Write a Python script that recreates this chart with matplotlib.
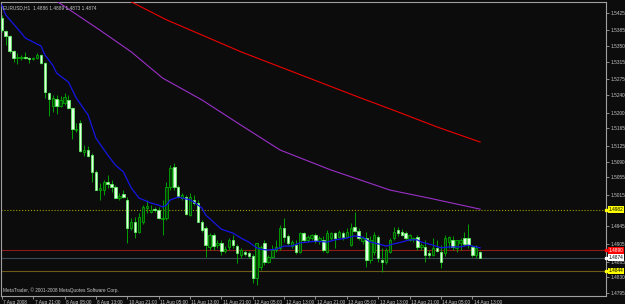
import numpy as np
import matplotlib
matplotlib.use("Agg")
import matplotlib.pyplot as plt
import matplotlib.transforms as mtransforms

# EURUSD H1 bars (7 Aug 2008 13:00 .. 14 Aug 2008 15:00)
opens = [1.5413, 1.5384, 1.5373, 1.5339, 1.5323, 1.5323, 1.5325, 1.5323, 1.5321, 1.5323,
         1.5330, 1.5312, 1.5244, 1.5215, 1.5231, 1.5215, 1.5222, 1.5229, 1.5211, 1.5161,
         1.5177, 1.5112, 1.5116, 1.5105, 1.5067, 1.5026, 1.5026, 1.5044, 1.5040, 1.5033,
         1.5008, 1.5017, 1.5004, 1.4941, 1.4954, 1.4932, 1.4954, 1.4986, 1.4977, 1.4983,
         1.4981, 1.4961, 1.4963, 1.5033, 1.5078, 1.5033, 1.5008, 1.5010, 1.4970, 1.5004,
         1.4997, 1.4954, 1.4941, 1.4898, 1.4925, 1.4902, 1.4907, 1.4889, 1.4898, 1.4914,
         1.4900, 1.4880, 1.4887, 1.4884, 1.4878, 1.4828, 1.4853, 1.4907, 1.4864, 1.4875,
         1.4891, 1.4896, 1.4941, 1.4923, 1.4900, 1.4902, 1.4887, 1.4929, 1.4914, 1.4918,
         1.4925, 1.4911, 1.4914, 1.4887, 1.4918, 1.4929, 1.4920, 1.4929, 1.4920, 1.4902,
         1.4943, 1.4934, 1.4911, 1.4918, 1.4869, 1.4887, 1.4920, 1.4869, 1.4864, 1.4887,
         1.4918, 1.4936, 1.4932, 1.4929, 1.4914, 1.4916, 1.4920, 1.4898, 1.4898, 1.4884,
         1.4880, 1.4896, 1.4887, 1.4884, 1.4909, 1.4914, 1.4896, 1.4907, 1.4918, 1.4918,
         1.4898, 1.4880, 1.4886]
highs = [1.5420, 1.5386, 1.5375, 1.5341, 1.5334, 1.5330, 1.5337, 1.5325, 1.5325, 1.5334,
         1.5332, 1.5314, 1.5247, 1.5240, 1.5240, 1.5238, 1.5244, 1.5240, 1.5213, 1.5177,
         1.5184, 1.5127, 1.5125, 1.5109, 1.5071, 1.5042, 1.5049, 1.5060, 1.5049, 1.5037,
         1.5019, 1.5026, 1.5010, 1.4963, 1.4965, 1.4974, 1.4992, 1.5004, 1.4992, 1.4988,
         1.4988, 1.5004, 1.5044, 1.5082, 1.5087, 1.5037, 1.5019, 1.5015, 1.5019, 1.5015,
         1.5004, 1.4959, 1.4945, 1.4929, 1.4929, 1.4914, 1.4914, 1.4900, 1.4918, 1.4925,
         1.4905, 1.4896, 1.4891, 1.4889, 1.4882, 1.4907, 1.4902, 1.4914, 1.4880, 1.4902,
         1.4914, 1.4947, 1.4963, 1.4927, 1.4914, 1.4914, 1.4932, 1.4932, 1.4925, 1.4927,
         1.4929, 1.4923, 1.4923, 1.4936, 1.4932, 1.4932, 1.4936, 1.4934, 1.4941, 1.4952,
         1.4977, 1.4941, 1.4923, 1.4932, 1.4923, 1.4932, 1.4925, 1.4896, 1.4896, 1.4918,
         1.4943, 1.4943, 1.4938, 1.4934, 1.4927, 1.4920, 1.4925, 1.4907, 1.4914, 1.4891,
         1.4918, 1.4914, 1.4902, 1.4925, 1.4923, 1.4923, 1.4914, 1.4918, 1.4932, 1.4950,
         1.4902, 1.4902, 1.4889]
lows = [1.5382, 1.5352, 1.5334, 1.5314, 1.5310, 1.5319, 1.5321, 1.5312, 1.5319, 1.5321,
        1.5310, 1.5233, 1.5193, 1.5202, 1.5197, 1.5213, 1.5217, 1.5208, 1.5141, 1.5157,
        1.5112, 1.5103, 1.5100, 1.5044, 1.5026, 1.5004, 1.5015, 1.5031, 1.5022, 1.5008,
        1.5004, 1.5008, 1.4907, 1.4936, 1.4918, 1.4929, 1.4950, 1.4974, 1.4974, 1.4977,
        1.4961, 1.4925, 1.4959, 1.5026, 1.5026, 1.5008, 1.5004, 1.4970, 1.4968, 1.4992,
        1.4954, 1.4932, 1.4875, 1.4891, 1.4891, 1.4896, 1.4880, 1.4884, 1.4891, 1.4896,
        1.4862, 1.4873, 1.4878, 1.4873, 1.4817, 1.4812, 1.4846, 1.4857, 1.4862, 1.4873,
        1.4887, 1.4891, 1.4909, 1.4902, 1.4896, 1.4882, 1.4884, 1.4909, 1.4909, 1.4914,
        1.4907, 1.4905, 1.4887, 1.4884, 1.4914, 1.4896, 1.4918, 1.4914, 1.4918, 1.4900,
        1.4932, 1.4914, 1.4905, 1.4853, 1.4862, 1.4880, 1.4864, 1.4842, 1.4860, 1.4884,
        1.4914, 1.4923, 1.4923, 1.4914, 1.4911, 1.4909, 1.4891, 1.4891, 1.4864, 1.4873,
        1.4878, 1.4887, 1.4851, 1.4878, 1.4896, 1.4891, 1.4887, 1.4891, 1.4900, 1.4896,
        1.4875, 1.4873, 1.4873]
closes = [1.5386, 1.5373, 1.5339, 1.5323, 1.5325, 1.5325, 1.5323, 1.5321, 1.5323, 1.5330,
          1.5312, 1.5247, 1.5231, 1.5233, 1.5215, 1.5229, 1.5235, 1.5211, 1.5163, 1.5163,
          1.5114, 1.5116, 1.5103, 1.5067, 1.5026, 1.5031, 1.5044, 1.5040, 1.5033, 1.5008,
          1.5013, 1.5010, 1.4941, 1.4954, 1.4932, 1.4965, 1.4988, 1.4990, 1.4981, 1.4981,
          1.4963, 1.4963, 1.5033, 1.5076, 1.5033, 1.5013, 1.5015, 1.4972, 1.5010, 1.4997,
          1.4954, 1.4936, 1.4902, 1.4925, 1.4900, 1.4907, 1.4889, 1.4893, 1.4914, 1.4902,
          1.4884, 1.4891, 1.4882, 1.4878, 1.4828, 1.4907, 1.4898, 1.4864, 1.4875, 1.4891,
          1.4898, 1.4941, 1.4920, 1.4907, 1.4909, 1.4887, 1.4929, 1.4914, 1.4920, 1.4925,
          1.4911, 1.4918, 1.4891, 1.4929, 1.4929, 1.4918, 1.4932, 1.4920, 1.4932, 1.4941,
          1.4934, 1.4918, 1.4918, 1.4869, 1.4914, 1.4925, 1.4873, 1.4864, 1.4891, 1.4914,
          1.4932, 1.4929, 1.4925, 1.4918, 1.4925, 1.4918, 1.4898, 1.4902, 1.4880, 1.4880,
          1.4896, 1.4889, 1.4864, 1.4918, 1.4920, 1.4898, 1.4914, 1.4914, 1.4905, 1.4902,
          1.4880, 1.4896, 1.4874]

# moving averages (bar index, value)
ma_fast_bars = [0, 1, 5, 6, 8, 10, 11, 13, 14, 17, 19, 22, 24, 27, 29, 31, 33, 35, 38, 40,
                41, 42, 43, 45, 46, 48, 49, 51, 52, 54, 56, 59, 61, 63, 65, 66, 68, 70, 72, 74,
                76, 80, 83, 85, 88, 90, 92, 94, 96, 98, 100, 102, 104, 106, 107, 110, 112, 114,
                117, 119, 121, 122]
ma_fast = [1.5442, 1.5420, 1.5379, 1.5368, 1.5359, 1.5350, 1.5330, 1.5307, 1.5289, 1.5269,
           1.5233, 1.5195, 1.5143, 1.5105, 1.5082, 1.5067, 1.5031, 1.5008, 1.4997, 1.4992,
           1.4988, 1.4992, 1.5004, 1.5010, 1.5008, 1.5004, 1.4999, 1.4986, 1.4970, 1.4954,
           1.4938, 1.4929, 1.4918, 1.4909, 1.4896, 1.4893, 1.4891, 1.4893, 1.4900, 1.4900,
           1.4907, 1.4911, 1.4909, 1.4914, 1.4918, 1.4923, 1.4920, 1.4909, 1.4905, 1.4900,
           1.4905, 1.4909, 1.4914, 1.4914, 1.4909, 1.4902, 1.4896, 1.4898, 1.4898, 1.4902,
           1.4898, 1.4896]
ma_mid_bars = [10, 14, 25, 33, 41, 51, 61, 71, 84, 99, 110, 122]
ma_mid = [1.5478, 1.5451, 1.5386, 1.5337, 1.5278, 1.5229, 1.5172, 1.5116, 1.5071, 1.5026,
          1.5006, 1.4983]
ma_slow_bars = [28, 32, 42, 51, 61, 71, 81, 91, 101, 111, 122]
ma_slow = [1.5469, 1.5454, 1.5409, 1.5375, 1.5337, 1.5303, 1.5269, 1.5235, 1.5202, 1.5168,
           1.5134]

price_ticks = [1.5425, 1.5385, 1.5350, 1.5315, 1.5275, 1.5240, 1.5200, 1.5165, 1.5125,
               1.5090, 1.5055, 1.5015, 1.4945, 1.4905, 1.4865, 1.4830, 1.4795]
time_ticks = [0, 8, 16, 24, 32, 40, 48, 56, 64, 72, 80, 88, 96, 104, 112, 120]
time_labels = ['7 Aug 2008', '7 Aug 21:00', '8 Aug 05:00', '8 Aug 13:00', '10 Aug 21:00',
               '11 Aug 05:00', '11 Aug 13:00', '11 Aug 21:00', '12 Aug 05:00', '12 Aug 13:00',
               '12 Aug 21:00', '13 Aug 05:00', '13 Aug 13:00', '13 Aug 21:00', '14 Aug 05:00',
               '14 Aug 13:00']

# horizontal lines: (price, line colour, style, label bg, label fg)
levels = [(1.4982, '#a0a000', ':', '#ffff00', 'black'),
          (1.4890, '#8c1a1a', '-', '#ff0000', 'white'),
          (1.4874, '#3c4854', '-', '#ffffff', 'black'),
          (1.4844, '#6e5a18', '-', '#ffff00', 'black')]

bg = '#0c0c0c'
fg = '#c8c8c8'
plt.rcParams['font.family'] = ['Liberation Sans', 'DejaVu Sans']
fs = 3.4

fig = plt.figure(figsize=(6.25, 3.04), dpi=100, facecolor=bg)
ax = fig.add_axes([1 / 625, 8.3 / 304, 605 / 625, 293.7 / 304], facecolor=bg)

ax.set_xlim(-0.2, 154.1)
ax.set_ylim(1.47883, 1.54491)

for price, lc, ls, bgc, tc in levels:
    ax.axhline(price, color=lc, linestyle=ls, linewidth=0.8, zorder=1)

idx = np.arange(len(opens))
o = np.array(opens)
c = np.array(closes)
bear = c < o
ax.vlines(idx, lows, highs, colors='#00a000', linewidth=0.7, zorder=2)
face = np.where(bear, '#e4ffe4', '#073a07')
edge = np.where(bear, '#66ee66', '#00a800')
ax.bar(idx, c - o, bottom=o, width=0.62, color=face, edgecolor=edge,
       linewidth=0.6, zorder=3)

ax.plot(ma_slow_bars, ma_slow, color='#ee0000', linewidth=0.8, zorder=4)
ax.plot(ma_mid_bars, ma_mid, color='#9b30c8', linewidth=0.8, zorder=4)
ax.plot(ma_fast_bars, ma_fast, color='#1515e6', linewidth=0.9, zorder=4)

for sp in ax.spines.values():
    sp.set_color('#a0a0a0')
    sp.set_linewidth(0.8)

ax.yaxis.tick_right()
ax.set_yticks(price_ticks)
ax.set_yticklabels([f'{p:.4f}' for p in price_ticks])
ax.tick_params(axis='y', colors='#a0a0a0', labelcolor=fg, labelsize=fs,
               length=2, width=0.6, pad=1)
ax.set_xticks(time_ticks)
ax.set_xticklabels(time_labels, ha='left')
ax.tick_params(axis='x', colors='#a0a0a0', labelcolor=fg, labelsize=fs,
               length=2, width=0.6, pad=1)
off = mtransforms.ScaledTranslation(1.5 / 100, 0, fig.dpi_scale_trans)
for lab in ax.get_xticklabels():
    lab.set_transform(lab.get_transform() + off)

trans = mtransforms.blended_transform_factory(ax.transAxes, ax.transData)
for price, lc, ls, bgc, tc in levels:
    ax.text(1.004, price, f'{price:.4f}', transform=trans, ha='left', va='center',
            fontsize=fs, color=tc, clip_on=False, zorder=6,
            bbox=dict(facecolor=bgc, edgecolor='none', pad=0.6))
    ax.plot([1.0], [price], marker='s', markersize=1.6, color=bgc, transform=trans,
            clip_on=False, zorder=6)

ax.text(0.004, 0.988, 'EURUSD,H1  1.4886 1.4889 1.4873 1.4874', transform=ax.transAxes,
        ha='left', va='top', fontsize=fs, color=fg, zorder=6)
ax.text(0.004, 0.008, 'MetaTrader, \u00a9 2001-2008 MetaQuotes Software Corp.',
        transform=ax.transAxes, ha='left', va='bottom', fontsize=fs, color=fg, zorder=6)

fig.savefig('out.png', dpi=100, facecolor=bg)
